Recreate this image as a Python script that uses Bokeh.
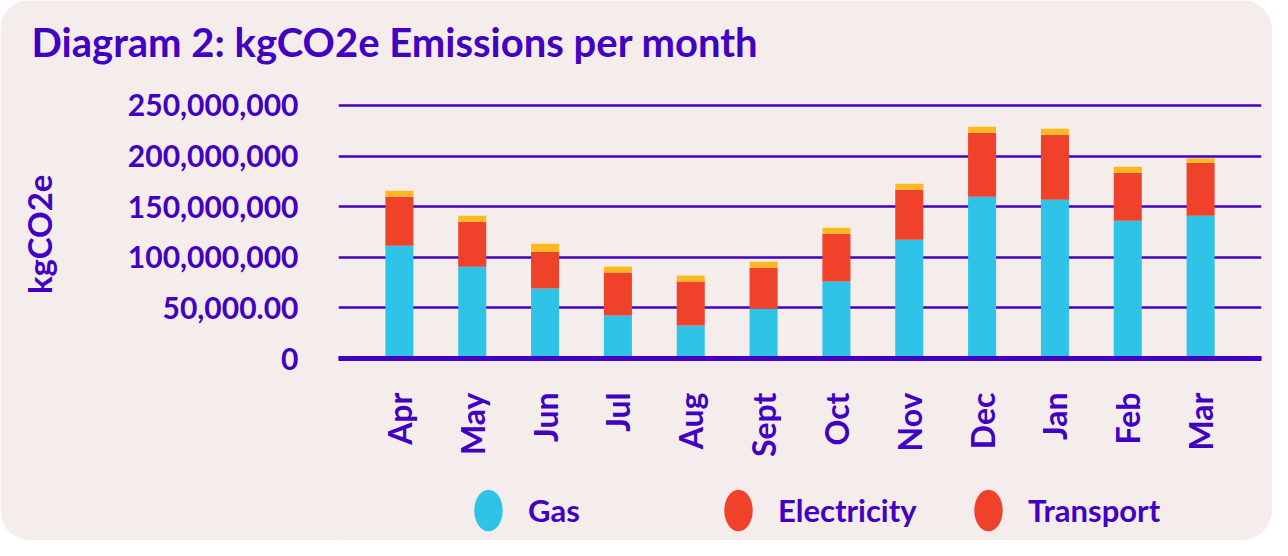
import math
from bokeh.plotting import figure
from bokeh.models import (ColumnDataSource, Legend, LegendItem,
                          FixedTicker, Range1d, FactorRange)
from bokeh.embed import file_html
from bokeh.resources import INLINE

# ---- data ----
months = ["Apr", "May", "Jun", "Jul", "Aug", "Sept", "Oct", "Nov", "Dec", "Jan", "Feb", "Mar"]
gas = [111.5e6, 90.8e6, 69.1e6, 42.4e6, 32.6e6, 49.3e6, 76.0e6, 117.4e6, 159.9e6, 156.9e6, 136.2e6, 141.1e6]
electricity = [48.4e6, 44.4e6, 36.5e6, 42.5e6, 43.4e6, 40.5e6, 47.4e6, 49.4e6, 63.1e6, 64.2e6, 47.4e6, 52.3e6]
transport = [5.9e6, 5.9e6, 7.9e6, 5.9e6, 5.9e6, 5.9e6, 5.9e6, 5.9e6, 5.9e6, 5.9e6, 5.9e6, 4.6e6]
y_ticks = [0, 50e6, 100e6, 150e6, 200e6, 250e6]
y_tick_labels = ["0", "50,000.00", "100,000,000", "150,000,000", "200,000,000", "250,000,000"]
series_names = ["Gas", "Electricity", "Transport"]
legend_labels = ["Gas", "Electricity", "Transport"]

# ---- styles ----
INK = "#4200c2"
PANEL = "#f5ecec"
BAR_COLORS = ["#2ec3e7", "#f0412b", "#ffb81f"]
LEGEND_COLORS = ["#2ec3e7", "#f0412b", "#f0412b"]
FONT = "Lato"

source = ColumnDataSource(data=dict(month=months, Gas=gas, Electricity=electricity, Transport=transport))

# frame spans from below the title down to the bottom edge; the value axis
# covers 0..250M and the category axis is pinned at 0
p = figure(width=1272, height=540, output_backend="svg", toolbar_location=None,
           x_range=FactorRange(*months, range_padding=0.056),
           y_range=Range1d(-179.8e6, 274.7e6),
           min_border_left=338, min_border_right=11, min_border_top=80, min_border_bottom=0)
p.styles = {"border-radius": "30px", "overflow": "hidden"}
p.background_fill_color = PANEL
p.border_fill_color = PANEL
p.outline_line_color = None

p.vbar_stack(series_names, x="month", width=0.385, color=BAR_COLORS, source=source, line_width=0)

# title
p.title.text = "Diagram 2: kgCO2e Emissions per month"
p.title.align = "left"
p.title.offset = -307
p.title.standoff = 30
p.title.vertical_align = "bottom"
p.title.text_font = FONT
p.title.text_font_style = "bold"
p.title.text_font_size = "40px"
p.title.text_color = INK

# grid
p.xgrid.grid_line_color = None
p.ygrid.grid_line_color = INK
p.ygrid.grid_line_width = 2.5
p.ygrid.ticker = FixedTicker(ticks=y_ticks)

# y axis
p.yaxis.ticker = FixedTicker(ticks=y_ticks)
p.yaxis.major_label_overrides = {t: l for t, l in zip(y_ticks, y_tick_labels)}
p.yaxis.axis_line_color = None
p.yaxis.major_tick_line_color = None
p.yaxis.minor_tick_line_color = None
p.yaxis.major_tick_out = 0
p.yaxis.major_label_standoff = 40
p.yaxis.major_label_text_font = FONT
p.yaxis.major_label_text_font_style = "bold"
p.yaxis.major_label_text_font_size = "30px"
p.yaxis.major_label_text_color = INK
# the axis title is centred on the (tall) frame; leading no-break spaces lift it
# up to sit beside the 0..250M value range as in the reference
p.yaxis.axis_label = "\u00a0" * 19 + "kgCO2e"
p.yaxis.axis_label_standoff = 66
p.yaxis.axis_label_text_font = FONT
p.yaxis.axis_label_text_font_style = "bold"
p.yaxis.axis_label_text_font_size = "33px"
p.yaxis.axis_label_text_color = INK

# x axis pinned at zero
p.xaxis.fixed_location = 0
p.xaxis.axis_line_color = INK
p.xaxis.axis_line_width = 5
p.xaxis.axis_line_cap = "round"
p.xaxis.major_tick_line_color = None
p.xaxis.major_tick_out = 0
p.xaxis.major_tick_in = 0
p.xaxis.major_label_orientation = math.pi / 2
p.xaxis.major_label_standoff = 34
p.xaxis.major_label_text_font = FONT
p.xaxis.major_label_text_font_style = "bold"
p.xaxis.major_label_text_font_size = "32px"
p.xaxis.major_label_text_color = INK

# legend with ellipse markers (dummy renderers placed outside visible range)
items = []
for lab, col in zip(legend_labels, LEGEND_COLORS):
    r = p.ellipse(x=["Apr"], y=[-1e9], width=28, height=41, width_units="screen",
                  height_units="screen", fill_color=col, line_color=None)
    items.append(LegendItem(label=lab, renderers=[r], index=0))

legend = Legend(items=items, orientation="horizontal", location=(124, 4),
                glyph_width=52, glyph_height=52, label_standoff=14, label_width=184,
                spacing=0, padding=0, margin=0,
                label_text_font=FONT, label_text_font_style="bold", label_text_font_size="31px",
                label_text_color=INK, background_fill_alpha=0, border_line_alpha=0)
p.add_layout(legend, "center")

open("out.html", "w").write(file_html(p, INLINE))
